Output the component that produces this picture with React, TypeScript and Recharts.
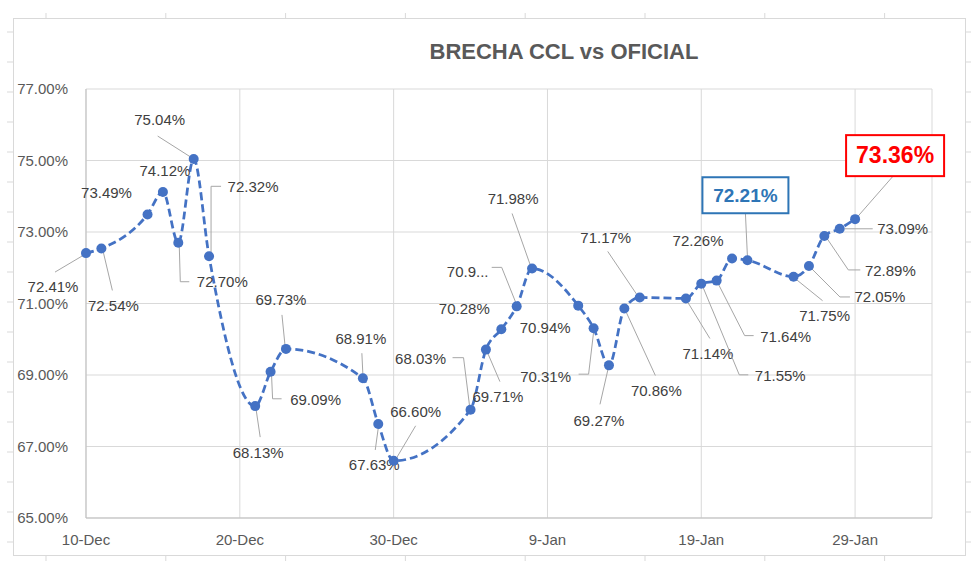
import React from 'react';
import { LineChart, Line, XAxis, YAxis, CartesianGrid } from 'recharts';

// ---- data ----
const dates = [
  '2020-12-10', '2020-12-11', '2020-12-14', '2020-12-15', '2020-12-16', '2020-12-17', '2020-12-18',
  '2020-12-21', '2020-12-22', '2020-12-23', '2020-12-28', '2020-12-29', '2020-12-30',
  '2021-01-04', '2021-01-05', '2021-01-06', '2021-01-07', '2021-01-08',
  '2021-01-11', '2021-01-12', '2021-01-13', '2021-01-14', '2021-01-15',
  '2021-01-18', '2021-01-19', '2021-01-20', '2021-01-21', '2021-01-22',
  '2021-01-25', '2021-01-26', '2021-01-27', '2021-01-28', '2021-01-29',
];
const brecha = [
  72.41, 72.54, 73.49, 74.12, 72.70, 75.04, 72.32,
  68.13, 69.09, 69.73, 68.91, 67.63, 66.60,
  68.03, 69.71, 70.28, 70.92, 71.98,
  70.94, 70.31, 69.27, 70.86, 71.17,
  71.14, 71.55, 71.64, 72.26, 72.21,
  71.75, 72.05, 72.89, 73.09, 73.36,
];
const startDate = '2020-12-10';
const xTickDays = [0, 10, 20, 30, 40, 50];
const xTickLabels = ['10-Dec', '20-Dec', '30-Dec', '9-Jan', '19-Jan', '29-Jan'];
const yTicks = [65, 67, 69, 71, 73, 75, 77];
const title = 'BRECHA CCL vs OFICIAL';
const highlightBlue = 27;
const highlightRed = 32;
const truncatedIndex = 16;

const dayMs = 86400000;
const dayOf = (s: string) => Math.round((Date.parse(s) - Date.parse(startDate)) / dayMs);
const data = dates.map((d, i) => ({ d: dayOf(d), v: brecha[i] }));

// ---- label layout (relative to marker) ----
type Lay = { dx: number; dy: number; lead?: number[][] };
const layout: Lay[] = [
  { dx: -33, dy: 34, lead: [[-4, 3], [-31, 19]] },
  { dx: 12, dy: 57, lead: [[2, 4], [11, 42]] },
  { dx: -41, dy: -22 },
  { dx: 2, dy: -21 },
  { dx: 44, dy: 39, lead: [[1, 4], [2, 39], [11, 39]] },
  { dx: -34, dy: -39, lead: [[-36, -23], [-3, -2]] },
  { dx: 44, dy: -70, lead: [[2, -4], [2, -70], [12, -70]] },
  { dx: 3, dy: 46, lead: [[1, 4], [5, 31]] },
  { dx: 45, dy: 28, lead: [[1, 4], [2, 27], [11, 27]] },
  { dx: -5, dy: -49, lead: [[-4, -34], [-1, -4]] },
  { dx: -2, dy: -40, lead: [[-1, -25], [0, -4]] },
  { dx: -4, dy: 41, lead: [[0, 4], [-3, 26]] },
  { dx: 22, dy: -49, lead: [[22, -35], [3, -3]] },
  { dx: -50, dy: -51, lead: [[-18, -52], [-7, -52], [-1, -4]] },
  { dx: 12, dy: 47, lead: [[2, 4], [14, 32]] },
  { dx: -37, dy: -21 },
  { dx: -49, dy: -35, lead: [[-25, -39], [-15, -39], [-1, -4]] },
  { dx: -19, dy: -70, lead: [[-20, -55], [-2, -4]] },
  { dx: -33, dy: 22 },
  { dx: -48, dy: 48, lead: [[-15, 46], [-5, 46], [0, 4]] },
  { dx: -10, dy: 55, lead: [[-1, 4], [-9, 39]] },
  { dx: 32, dy: 82, lead: [[2, 4], [31, 67]] },
  { dx: -34, dy: -60, lead: [[-32, -46], [-3, -3]] },
  { dx: 22, dy: 55, lead: [[2, 4], [24, 40]] },
  { dx: 79, dy: 92, lead: [[2, 4], [38, 91], [47, 91]] },
  { dx: 69, dy: 56, lead: [[2, 4], [28, 55], [37, 55]] },
  { dx: -34, dy: -18 },
  { dx: -2, dy: -65, lead: [[-2, -47], [0, -4]] },
  { dx: 31, dy: 39, lead: [[3, 3], [29, 24]] },
  { dx: 71, dy: 31, lead: [[3, 3], [31, 31], [41, 31]] },
  { dx: 66, dy: 35, lead: [[3, 3], [24, 34], [36, 34]] },
  { dx: 63, dy: 0, lead: [[5, 0], [33, 0]] },
  { dx: 40, dy: -64, lead: [[38, -43], [3, -3]] },
];

const FONT = '"Liberation Sans", Arial, sans-serif';
const BLUE = '#4472C4';

const fmt = (v: number) => v.toFixed(2) + '%';

const renderDot = (props: any) => {
  const { cx, cy, index } = props;
  if (cx == null || cy == null) return <g key={'d' + index} />;
  const lay = layout[index] || { dx: 0, dy: -20 };
  const v = brecha[index];
  let text = fmt(v);
  if (index === truncatedIndex) text = text.slice(0, 4) + '...';
  const lx = cx + lay.dx;
  const ly = cy + lay.dy;
  const lead = lay.lead
    ? lay.lead.map((p) => `${cx + p[0]},${cy + p[1]}`).join(' ')
    : null;
  let labelEl: React.ReactNode;
  if (index === highlightBlue) {
    labelEl = (
      <g>
        <rect x={lx - 43} y={ly - 18} width={86} height={36} fill="#fff" stroke="#2E75B6" strokeWidth={2} />
        <text x={lx} y={ly} dy="0.36em" textAnchor="middle" fontFamily={FONT} fontWeight="bold" fontSize={19} fill="#2E75B6">{text}</text>
      </g>
    );
  } else if (index === highlightRed) {
    labelEl = (
      <g>
        <rect x={lx - 49} y={ly - 20} width={98} height={41} fill="#fff" stroke="#FF0000" strokeWidth={2} />
        <text x={lx} y={ly} dy="0.36em" textAnchor="middle" fontFamily={FONT} fontWeight="bold" fontSize={23} fill="#FF0000">{text}</text>
      </g>
    );
  } else {
    labelEl = (
      <text x={lx} y={ly} dy="0.36em" textAnchor="middle" fontFamily={FONT} fontSize={15} fill="#404040">{text}</text>
    );
  }
  return (
    <g key={'d' + index}>
      {lead && <polyline points={lead} fill="none" stroke="#a6a6a6" strokeWidth={1} />}
      <circle cx={cx} cy={cy} r={5} fill={BLUE} />
      {labelEl}
    </g>
  );
};

const Frame = () => {
  const lines: React.ReactNode[] = [];
  for (let y = 32; y < 555; y += 30) {
    lines.push(<line key={'l' + y} x1={7} x2={13} y1={y} y2={y} stroke="#d9d9d9" />);
    lines.push(<line key={'r' + y} x1={965} x2={971} y1={y} y2={y} stroke="#d9d9d9" />);
  }
  for (let x = 46; x < 965; x += 119.8) {
    lines.push(<line key={'t' + x} x1={x} x2={x} y1={13} y2={18} stroke="#d9d9d9" />);
    lines.push(<line key={'b' + x} x1={x} x2={x} y1={555} y2={561} stroke="#d9d9d9" />);
  }
  return (
    <svg width={980} height={566} style={{ position: 'absolute', left: 0, top: 0 }}>
      <rect x={13.5} y={18.5} width={952} height={537} fill="#fff" stroke="#d9d9d9" />
      {lines}
      <text x={564} y={59} textAnchor="middle" fontFamily={FONT} fontWeight="bold" fontSize={22} fill="#595959">{title}</text>
    </svg>
  );
};

export default function App() {
  return (
    <div style={{ position: 'absolute', left: 0, top: 0, width: 980, height: 566, background: '#fff' }}>
      <Frame />
      <div style={{ position: 'absolute', left: 0, top: 0 }}>
        <LineChart width={980} height={566} data={data} margin={{ top: 89, right: 48, bottom: 18, left: 0 }}>
          <CartesianGrid stroke="#d9d9d9" strokeWidth={1} />
          <XAxis
            dataKey="d"
            type="number"
            domain={[0, 55]}
            ticks={xTickDays}
            tickFormatter={(v: number) => xTickLabels[xTickDays.indexOf(v)] ?? ''}
            axisLine={{ stroke: '#bfbfbf' }}
            tickLine={false}
            tickSize={0}
            tickMargin={16}
            height={30}
            tick={{ fill: '#595959', fontSize: 15, fontFamily: FONT }}
            interval={0}
          />
          <YAxis
            type="number"
            domain={[65, 77]}
            ticks={yTicks}
            tickFormatter={fmt}
            axisLine={{ stroke: '#bfbfbf' }}
            tickLine={false}
            tickSize={0}
            tickMargin={18}
            width={86}
            tick={{ fill: '#595959', fontSize: 15, fontFamily: FONT }}
            interval={0}
          />
          <Line
            type="monotone"
            dataKey="v"
            stroke={BLUE}
            strokeWidth={2.75}
            strokeDasharray="8 4"
            dot={renderDot}
            activeDot={false}
            isAnimationActive={false}
          />
        </LineChart>
      </div>
    </div>
  );
}
